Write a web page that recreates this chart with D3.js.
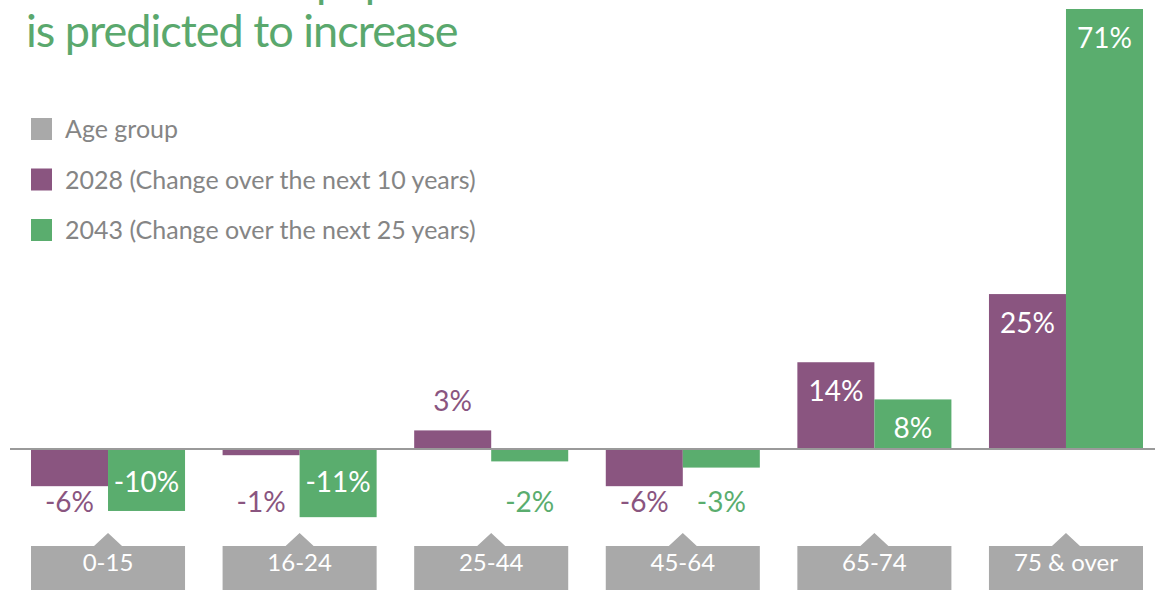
<!DOCTYPE html>
<html><head><meta charset="utf-8">
<script src="https://cdn.jsdelivr.net/npm/d3@7"></script>
<style>
html,body{margin:0;padding:0;background:#fff;}
svg{display:block;font-family:Lato,"Open Sans",sans-serif;}
</style></head>
<body><svg id="chart" width="1155" height="590"></svg>
<script>
const titleLines = ["The older population", "is predicted to increase"];
const categories = ["0-15", "16-24", "25-44", "45-64", "65-74", "75 & over"];
const series = ["2028", "2043"];
const values2028 = [-6, -1, 3, -6, 14, 25];
const values2043 = [-10, -11, -2, -3, 8, 71];
const legendLabels = ["Age group", "2028 (Change over the next 10 years)", "2043 (Change over the next 25 years)"];

const colors = {"2028": "#8a5580", "2043": "#5aad6e", grey: "#a9a9a9"};
const legendColors = [colors.grey, colors["2028"], colors["2043"]];

const svg = d3.select("#chart");
const W = 1155, H = 590;
const baseY = 449;

const x0 = d3.scaleBand().domain(categories).range([31, 1143]).paddingInner(0.196).paddingOuter(0);
const x1 = d3.scaleBand().domain(series).range([0, x0.bandwidth()]).padding(0);
const y = d3.scaleLinear().domain([0, 71]).range([baseY, 9]);

// Title (first line is cut off by the top edge, as in the reference)
const title = svg.append("g").attr("fill", "#5aa86d").attr("font-size", 45).attr("letter-spacing", -1);
const words1 = titleLines[0].split(" ");
const t1 = title.append("text").attr("y", -3);
t1.append("tspan").attr("x", 26).text(words1.slice(0, -1).join(" "));
t1.append("tspan").attr("x", 316).text(words1[words1.length - 1]);
title.append("text").attr("x", 26).attr("y", 47).text(titleLines[1]);

// Legend
const leg = svg.append("g").attr("transform", "translate(31,118)");
legendLabels.forEach((t, i) => {
  const g = leg.append("g").attr("transform", `translate(0,${i * 50.5})`);
  g.append("rect").attr("width", 21).attr("height", 22).attr("fill", legendColors[i]);
  g.append("text").attr("x", 34).attr("y", 20).attr("font-size", 25).attr("fill", "#858585").text(t);
});

// Data
const data = categories.map((c, i) => ({cat: c, vals: [{s: "2028", v: values2028[i]}, {s: "2043", v: values2043[i]}]}));

const groups = svg.append("g").selectAll("g").data(data).join("g")
  .attr("transform", d => `translate(${x0(d.cat)},0)`);

groups.selectAll("rect").data(d => d.vals).join("rect")
  .attr("x", d => x1(d.s))
  .attr("width", x1.bandwidth())
  .attr("y", d => Math.min(y(d.v), y(0)))
  .attr("height", d => Math.abs(y(d.v) - y(0)))
  .attr("fill", d => colors[d.s]);

// value labels
groups.selectAll("text.val").data(d => d.vals).join("text").attr("class", "val")
  .attr("x", d => x1(d.s) + x1.bandwidth() / 2)
  .attr("text-anchor", "middle")
  .attr("font-size", 28)
  .attr("y", d => {
    if (d.v >= 8) return y(d.v) + 39;
    if (d.v > 0) return y(d.v) - 19;
    if (d.v <= -10) return baseY + 43;
    return baseY + 63;
  })
  .attr("fill", d => (d.v >= 8 || d.v <= -10) ? "#fff" : colors[d.s])
  .text(d => d.v + "%");

// baseline
svg.append("line").attr("x1", 10).attr("x2", W).attr("y1", baseY).attr("y2", baseY)
  .attr("stroke", "#9a9a9a").attr("stroke-width", 2);

// category label tabs
const tabs = svg.append("g").selectAll("g").data(categories).join("g")
  .attr("transform", d => `translate(${x0(d)},0)`);
const bw = x0.bandwidth();
tabs.append("path")
  .attr("d", `M0,546 H${bw/2 - 14} L${bw/2},533 L${bw/2 + 14},546 H${bw} V${H} H0 Z`)
  .attr("fill", colors.grey);
tabs.append("text").attr("x", bw / 2).attr("y", 571).attr("text-anchor", "middle")
  .attr("font-size", 24).attr("fill", "#fff").text(d => d);
</script>
</body></html>
